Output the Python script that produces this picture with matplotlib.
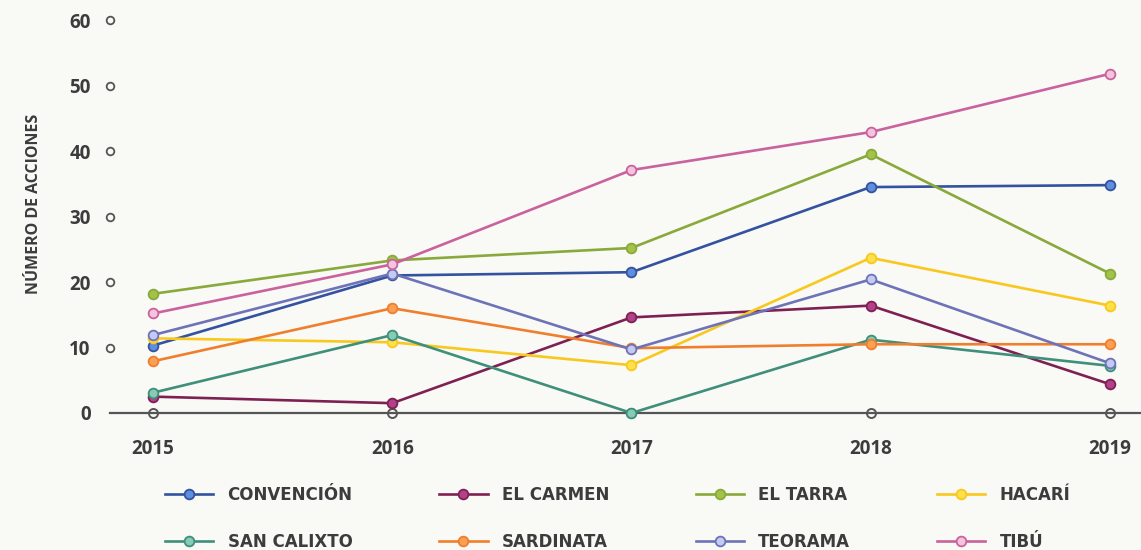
import numpy as np
import matplotlib
matplotlib.use("Agg")
import matplotlib.pyplot as plt

# --- data ---
years = [2015, 2016, 2017, 2018, 2019]
convencion = [10.3, 21.0, 21.5, 34.5, 34.8]
el_carmen = [2.5, 1.5, 14.6, 16.4, 4.4]
el_tarra = [18.2, 23.3, 25.2, 39.5, 21.3]
hacari = [11.4, 10.8, 7.3, 23.7, 16.4]
san_calixto = [3.1, 11.9, 0.0, 11.2, 7.2]
sardinata = [7.9, 16.0, 9.9, 10.5, 10.5]
teorama = [11.9, 21.3, 9.7, 20.4, 7.6]
tibu = [15.2, 22.7, 37.1, 42.9, 51.8]

y_ticks = [0, 10, 20, 30, 40, 50, 60]

# name, values, line colour, marker fill
series = [
    ("CONVENCIÓN", convencion, "#33529f", "#5f8fdc"),
    ("EL CARMEN", el_carmen, "#7e2152", "#b3408a"),
    ("EL TARRA", el_tarra, "#89a93a", "#a3c24a"),
    ("HACARÍ", hacari, "#f8c81e", "#ffe04a"),
    ("SAN CALIXTO", san_calixto, "#3f8f7a", "#86cbb5"),
    ("SARDINATA", sardinata, "#ef7f2c", "#f9a055"),
    ("TEORAMA", teorama, "#6e73b8", "#c4caf2"),
    ("TIBÚ", tibu, "#c9629d", "#f3c4dd"),
]

bg = "#f9f9f6"
axis_col = "#555555"
text_col = "#3c3c3c"

fig = plt.figure(figsize=(11.41, 5.5), dpi=100, facecolor=bg)
ax = fig.add_axes([110 / 1141, 137 / 550, 1 - 110 / 1141, 406 / 550])
ax.set_facecolor(bg)

handles = {}
for name, vals, col, fill in series:
    h, = ax.plot(years, vals, color=col, lw=1.9, marker="o", ms=7,
                 mfc=fill, mec=col, mew=1.3, clip_on=False, zorder=3)
    handles[name] = h

# axis line and its hollow circles
ax.plot(years, np.zeros(len(years)), "o", ms=6.5, mfc=bg, mec=axis_col,
        mew=1.4, clip_on=False, zorder=2)
# hollow circles next to y tick labels
ax.plot(np.zeros(len(y_ticks) - 1), y_ticks[1:], "o", ms=5.5, mfc=bg,
        mec=axis_col, mew=1.3, transform=ax.get_yaxis_transform(),
        clip_on=False, zorder=2)

ax.set_xlim(2014.82, 2019.13)
ax.set_ylim(0, 62)
ax.set_xticks(years)
ax.set_yticks(y_ticks)
for side in ["top", "right", "left"]:
    ax.spines[side].set_visible(False)
ax.spines["bottom"].set_color(axis_col)
ax.spines["bottom"].set_linewidth(1.6)

ax.tick_params(axis="x", length=0, pad=19, labelsize=13.5, labelcolor=text_col)
ax.tick_params(axis="y", length=0, pad=14, labelsize=13.5, labelcolor=text_col)
for lab in ax.get_xticklabels() + ax.get_yticklabels():
    lab.set_family("Open Sans")
    lab.set_stretch("condensed")
    lab.set_fontweight("bold")

ax.set_ylabel("NÚMERO DE ACCIONES", family="Open Sans", stretch="condensed",
              fontweight="bold", fontsize=11.5, color=text_col)
ax.yaxis.set_label_coords(-0.066, 0.515)

order = ["CONVENCIÓN", "SAN CALIXTO", "EL CARMEN", "SARDINATA",
         "EL TARRA", "TEORAMA", "HACARÍ", "TIBÚ"]
leg = fig.legend([handles[n] for n in order], order, ncol=4,
                 loc="center left", bbox_to_anchor=(165 / 1141, 0.057),
                 frameon=False, borderpad=0, borderaxespad=0,
                 handlelength=2.9, handletextpad=0.85, labelspacing=1.75,
                 columnspacing=5.2,
                 prop={"family": "DejaVu Sans", "weight": "bold", "size": 12})
for t in leg.get_texts():
    t.set_color(text_col)

fig.savefig("out.png", dpi=100, facecolor=bg)
